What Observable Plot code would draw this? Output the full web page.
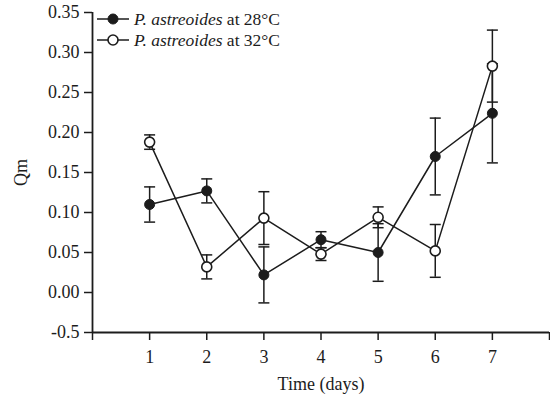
<!DOCTYPE html>
<html><head><meta charset="utf-8">
<script src="https://cdn.jsdelivr.net/npm/d3@7"></script>
<script src="https://cdn.jsdelivr.net/npm/@observablehq/plot@0.6"></script>
<style>
body{margin:0;background:#fff;}
#wrap{position:relative;width:550px;height:396px;font-family:"Liberation Serif","Times New Roman",serif;color:#1c1c1c;}
#legend{position:absolute;left:96px;top:8.5px;font-size:17.5px;line-height:21px;}
.row{display:flex;align-items:center;height:21px;white-space:nowrap;}
.row svg{margin-right:4px;display:block}
</style></head><body><div id="wrap"><div id="legend"></div></div>
<script>
const days = [1, 2, 3, 4, 5, 6, 7];
const seriesNames = ["28°C", "32°C"];
const speciesName = "P. astreoides";
const qm28 = [0.110, 0.127, 0.022, 0.066, 0.050, 0.170, 0.224];
const err28 = [0.022, 0.015, 0.035, 0.010, 0.036, 0.048, 0.062];
const qm32 = [0.188, 0.032, 0.093, 0.048, 0.094, 0.052, 0.283];
const err32 = [0.009, 0.015, 0.033, 0.008, 0.013, 0.033, 0.045];
const yTicks = [-0.05, 0, 0.05, 0.10, 0.15, 0.20, 0.25, 0.30, 0.35];
const yTickLabels = ["-0.5", "0.00", "0.05", "0.10", "0.15", "0.20", "0.25", "0.30", "0.35"];
const xTicks = [0, 1, 2, 3, 4, 5, 6, 7, 8];
const xTickLabels = ["", "1", "2", "3", "4", "5", "6", "7", ""];
const xTitle = "Time (days)";
const yTitle = "Qm";
const xDomain = [0, 8];
const yDomain = [-0.05, 0.35];

const ink = "#1c1c1c";
const mk = (qm, err, s) => days.map((d, i) => ({day: d, qm: qm[i], lo: qm[i] - err[i], hi: qm[i] + err[i], series: s}));
const d28 = mk(qm28, err28, seriesNames[0]);
const d32 = mk(qm32, err32, seriesNames[1]);
const capSymbol = {draw(ctx, size) { const h = Math.sqrt(size / Math.PI); ctx.moveTo(-h, 0); ctx.lineTo(h, 0); }};

const errMarks = (data) => [
  Plot.ruleX(data, {x: "day", y1: "lo", y2: "hi", stroke: ink, strokeWidth: 1.5}),
  Plot.dot(data, {x: "day", y: "lo", symbol: capSymbol, r: 5.5, stroke: ink, strokeWidth: 1.5}),
  Plot.dot(data, {x: "day", y: "hi", symbol: capSymbol, r: 5.5, stroke: ink, strokeWidth: 1.5})
];

const chart = Plot.plot({
  width: 550, height: 396,
  marginLeft: 92, marginRight: 1, marginTop: 12, marginBottom: 64,
  style: {fontFamily: '"Liberation Serif","Times New Roman",serif', fontSize: "18px", color: ink, background: "transparent"},
  x: {domain: xDomain},
  y: {domain: yDomain},
  marks: [
    Plot.axisY({ticks: yTicks, tickFormat: d => yTickLabels[yTicks.indexOf(d)], tickSize: 8, tickPadding: 5, strokeWidth: 1.5, label: null}),
    Plot.axisX({ticks: xTicks, tickFormat: d => xTickLabels[xTicks.indexOf(d)], tickSize: 8, tickPadding: 10, strokeWidth: 1.5, label: null}),
    Plot.text([yTitle], {frameAnchor: "left", rotate: -90, dx: -71, textAnchor: "middle", lineAnchor: "middle", fill: ink, fontSize: 18}),
    Plot.text([xTitle], {frameAnchor: "bottom", dy: 52, textAnchor: "middle", lineAnchor: "middle", fill: ink, fontSize: 18}),
    Plot.ruleX([xDomain[0]], {y1: yDomain[0], y2: yDomain[1], stroke: ink, strokeWidth: 1.8}),
    Plot.ruleY([yDomain[0]], {x1: xDomain[0], x2: xDomain[1], stroke: ink, strokeWidth: 1.8}),
    ...errMarks(d28),
    ...errMarks(d32),
    Plot.line(d28, {x: "day", y: "qm", stroke: ink, strokeWidth: 1.5}),
    Plot.line(d32, {x: "day", y: "qm", stroke: ink, strokeWidth: 1.5}),
    Plot.dot(d28, {x: "day", y: "qm", r: 5, fill: ink, stroke: ink, strokeWidth: 1}),
    Plot.dot(d32, {x: "day", y: "qm", r: 5, fill: "white", stroke: ink, strokeWidth: 1.6})
  ]
});
document.getElementById("wrap").prepend(chart);

const legend = document.getElementById("legend");
seriesNames.forEach((s, i) => {
  const row = document.createElement("div");
  row.className = "row";
  const fill = i === 0 ? ink : "white";
  row.innerHTML = `<svg width="34" height="14"><line x1="1" x2="33" y1="7" y2="7" stroke="${ink}" stroke-width="1.5"/><circle cx="17" cy="7" r="5" fill="${fill}" stroke="${ink}" stroke-width="${i === 0 ? 1 : 1.6}"/></svg><span><i>${speciesName}</i> at ${s}</span>`;
  legend.appendChild(row);
});
</script></body></html>
